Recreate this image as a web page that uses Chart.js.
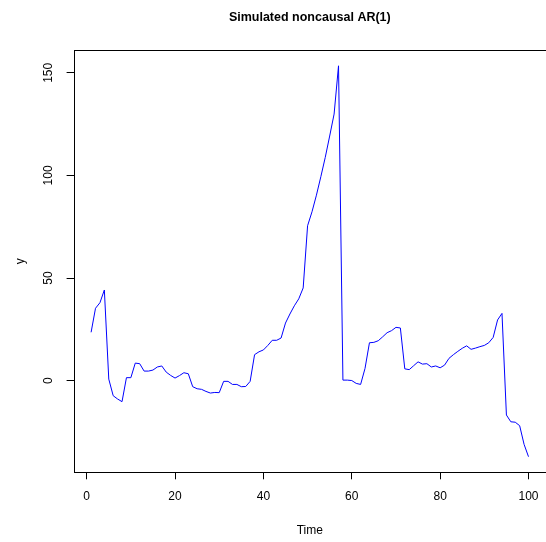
<!DOCTYPE html>
<html>
<head>
<meta charset="utf-8">
<script src="https://cdn.jsdelivr.net/npm/chart.js@4/dist/chart.umd.min.js"></script>
<style>
  html, body { margin: 0; padding: 0; background: #fff; }
  canvas { display: block; }
</style>
</head>
<body>
<canvas id="myChart" width="546" height="542"></canvas>
<script>
// Time index and simulated series
const timeIndex = Array.from({ length: 100 }, (_, i) => i + 1);
const yValues = [
  23.6, 35.3, 38.0, 44.2, 0.8, -7.3, -8.9, -10.2, 1.5, 1.5,
  8.6, 8.3, 4.7, 4.7, 5.2, 6.7, 7.2, 4.2, 2.6, 1.3,
  2.5, 3.9, 3.4, -2.9, -3.9, -4.2, -5.2, -6.0, -5.7, -5.8,
  -0.3, -0.3, -1.8, -1.8, -2.9, -2.8, -0.3, 12.7, 14.1, 15.0,
  17.2, 19.7, 19.7, 20.8, 28.1, 32.5, 36.5, 39.9, 45.2, 75.5,
  82.3, 90.4, 99.4, 108.8, 119.2, 129.9, 153.4, 0.3, 0.3, 0.1,
  -1.3, -1.8, 6.0, 18.5, 18.7, 19.5, 21.4, 23.4, 24.4, 26.0,
  25.7, 5.8, 5.4, 7.3, 9.2, 8.1, 8.3, 6.7, 7.2, 6.3,
  7.6, 10.9, 12.7, 14.3, 15.8, 17.0, 15.3, 15.9, 16.6, 17.2,
  18.5, 21.1, 29.6, 32.8, -16.7, -20.0, -20.2, -21.9, -31.0, -37.0
];
const xTicks = [0, 20, 40, 60, 80, 100];
const yTicks = [0, 50, 100, 150];

const FONT = '"Liberation Sans", Arial, Helvetica, sans-serif';

// R-style box around the plot region
const boxPlugin = {
  id: 'box',
  afterDraw(chart) {
    const { ctx, chartArea: a } = chart;
    ctx.save();
    ctx.strokeStyle = '#000';
    ctx.lineWidth = 1;
    ctx.strokeRect(Math.round(a.left) + 0.5, Math.round(a.top) + 0.5,
      Math.round(a.right - a.left), Math.round(a.bottom - a.top));
    ctx.restore();
  }
};

const ctx = document.getElementById('myChart').getContext('2d');
const myChart = new Chart(ctx, {
  type: 'line',
  data: {
    datasets: [{
      label: 'y',
      data: timeIndex.map((t, i) => ({ x: t, y: yValues[i] })),
      borderColor: '#0000ff',
      borderWidth: 1,
      pointRadius: 0,
      tension: 0,
      fill: false
    }]
  },
  options: {
    responsive: false,
    animation: false,
    devicePixelRatio: 1,
    layout: { padding: { left: 0, right: 0, top: 0, bottom: 0 } },
    plugins: {
      legend: { display: false },
      tooltip: { enabled: false },
      title: {
        display: true,
        text: 'Simulated noncausal AR(1)',
        color: '#000',
        fullSize: false,
        font: { family: FONT, size: 12.5, weight: 'bold' },
        padding: { top: 10.5, bottom: 24.5 }
      }
    },
    scales: {
      x: {
        type: 'linear',
        min: -2.96,
        max: 103.96,
        afterBuildTicks: (s) => { s.ticks = xTicks.map(v => ({ value: v })); },
        afterFit: (s) => { s.height = 69.7; s.paddingLeft = 0; s.paddingRight = 0; },
        grid: { display: true, drawOnChartArea: false, drawTicks: true, tickLength: 7, color: '#000', lineWidth: 1 },
        border: { display: false },
        ticks: { color: '#000', font: { family: FONT, size: 12 }, padding: 10.2, maxRotation: 0, autoSkip: false },
        title: { display: true, text: 'Time', color: '#000', font: { family: FONT, size: 12 }, padding: { bottom: 4 } }
      },
      y: {
        type: 'linear',
        min: -44.6,
        max: 161.1,
        afterBuildTicks: (s) => { s.ticks = yTicks.map(v => ({ value: v })); },
        afterFit: (s) => { s.width = 73.6; s.paddingTop = 0; s.paddingBottom = 0; },
        grid: { display: true, drawOnChartArea: false, drawTicks: true, tickLength: 7, color: '#000', lineWidth: 1 },
        border: { display: false },
        ticks: { color: '#000', font: { family: FONT, size: 12 }, padding: 7.6, minRotation: 90, maxRotation: 90, crossAlign: 'center', autoSkip: false },
        title: { display: true, text: 'y', color: '#000', font: { family: FONT, size: 12 }, padding: { top: 13 } }
      }
    }
  },
  plugins: [boxPlugin]
});
</script>
</body>
</html>
